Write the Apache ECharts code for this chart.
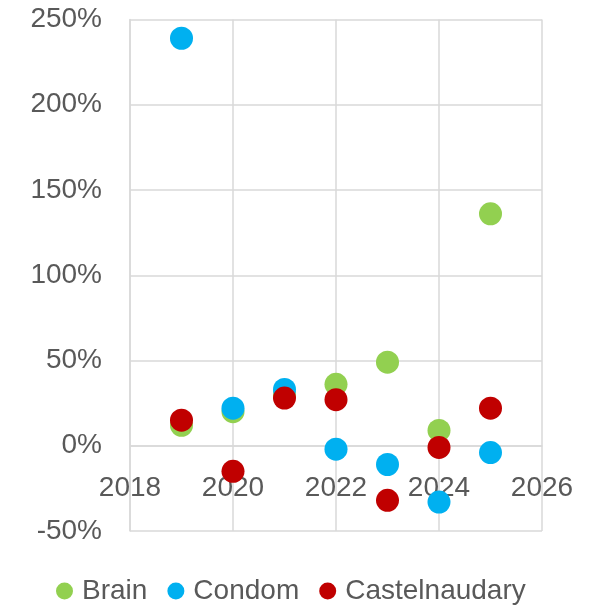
<!DOCTYPE html>
<html>
<head>
<meta charset="utf-8">
<script src="https://cdn.jsdelivr.net/npm/echarts@6/dist/echarts.min.js"></script>
<style>
  html, body { margin: 0; padding: 0; background: #fff; }
  #main { width: 603px; height: 607px; }
</style>
</head>
<body>
<div id="main"></div>
<script>
const years = [2019, 2020, 2021, 2022, 2023, 2024, 2025];
// valeurs en %
const brain = [12, 20, 30, 36, 49, 9, 136];
const condom = [239, 22, 33, -2, -11, -33, -4];
const castelnaudary = [15, -15, 28, 27, -32, -1, 22];

const FONT = 'Liberation Sans';
const TXT = '#595959';
const GRIDC = '#d9d9d9';

function toPoints(vals) { // paires [annee, valeur]
  return years.map((y, i) => [y, vals[i]]);
}

const chart = echarts.init(document.getElementById('main'), null, { renderer: 'canvas' });

const option = {
  animation: false,
  textStyle: { fontFamily: FONT },
  grid: { left: 130, right: 61, top: 19.5, bottom: 76 },
  legend: {
    bottom: -3,
    left: 51,
    icon: 'circle',
    itemWidth: 17,
    itemHeight: 17,
    itemGap: 20,
    textStyle: { fontSize: 28, color: TXT, fontFamily: FONT, padding: [0, 0, 0, 4] },
    data: ['Brain', 'Condom', 'Castelnaudary']
  },
  xAxis: {
    type: 'value',
    position: 'bottom',
    offset: -85, // axe horizontal place sur 0%
    min: 2018,
    max: 2026,
    interval: 2,
    axisLine: { onZero: false, lineStyle: { color: GRIDC, width: 1.5 } },
    axisTick: { show: false },
    axisLabel: { fontSize: 28, color: TXT, margin: 28, fontFamily: FONT, formatter: v => String(v) },
    splitLine: { show: true, lineStyle: { color: GRIDC, width: 1.5 } }
  },
  yAxis: {
    type: 'value',
    min: -50,
    max: 250,
    interval: 50,
    axisLine: { show: true, lineStyle: { color: GRIDC, width: 1.5 } },
    axisTick: { show: false },
    axisLabel: { fontSize: 28, color: TXT, margin: 28, fontFamily: FONT, formatter: '{value}%' },
    splitLine: { lineStyle: { color: GRIDC, width: 1.5 } }
  },
  series: [
    { name: 'Brain', type: 'scatter', symbolSize: 23, itemStyle: { color: '#92D050', opacity: 1 }, data: toPoints(brain) },
    { name: 'Condom', type: 'scatter', symbolSize: 23, itemStyle: { color: '#00B0F0', opacity: 1 }, data: toPoints(condom) },
    { name: 'Castelnaudary', type: 'scatter', symbolSize: 23, itemStyle: { color: '#C00000', opacity: 1 }, data: toPoints(castelnaudary) }
  ]
};

chart.setOption(option);
</script>
</body>
</html>
